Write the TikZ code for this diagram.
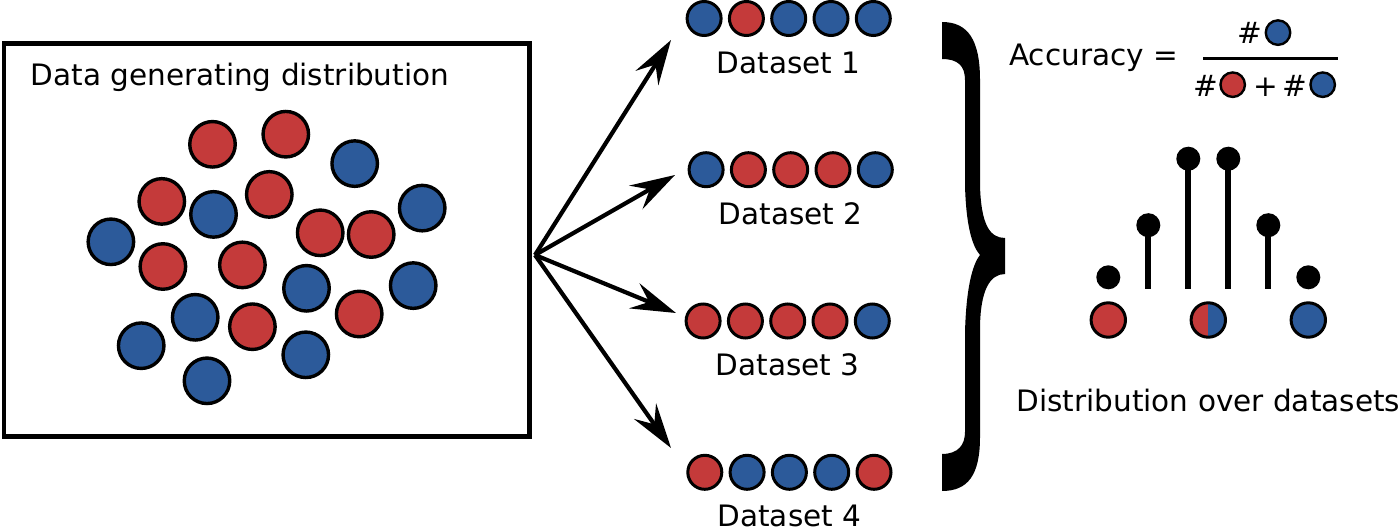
\documentclass[tikz,border=0pt]{standalone}
\usepackage{fontspec}
\setmainfont{DejaVu Sans}
\usetikzlibrary{positioning, calc, arrows.meta}
\definecolor{dotred}{HTML}{C43A3A}
\definecolor{dotblue}{HTML}{2C5A9A}
\tikzset{
	big red/.style={circle, draw, line width=3.4pt, fill=dotred, minimum size=45.5pt, inner sep=0pt, outer sep=0pt},
	big blue/.style={big red, fill=dotblue},
	red ball/.style={circle, draw, line width=3pt, fill=dotred, minimum size=34pt, inner sep=0pt, outer sep=0pt},
	blue ball/.style={red ball, fill=dotblue},
	small red/.style={circle, draw, line width=2.4pt, fill=dotred, minimum size=24.5pt, inner sep=0pt},
	small blue/.style={small red, fill=dotblue},
	stem dot/.style={circle, fill=black, minimum size=24pt, inner sep=0pt},
	txt/.style={inner sep=0pt, font=\fontsize{29.5}{35}\selectfont},
	fork/.style={line width=4.2pt, -{Stealth[length=45pt, width=27pt, inset=16pt]}},
}
\begin{document}
\begin{tikzpicture}[x=1pt, y=-1pt, node distance=8.3pt]
			\useasboundingbox (0,0) rectangle (1400,527);
			% generating distribution
			\node[draw, line width=4.5pt, minimum width=525.7pt, minimum height=393.3pt, inner sep=0pt] (box) at (266.65,239.95) {};
			\path (box.north west) ++(29,44.2) node[txt, anchor=base west] (title) {Data generating distribution};
			\node[big red] (p1) at (212.5,144.3) {};
			\node[big red] (p2) at (285.8,134.2) {};
			\node[big red] (p3) at (161.8,201.4) {};
			\node[big red] (p4) at (269.3,194.4) {};
			\node[big red] (p5) at (320.2,232.8) {};
			\node[big red] (p6) at (371.2,234.5) {};
			\node[big red] (p7) at (162.9,266.5) {};
			\node[big red] (p8) at (242.4,264.9) {};
			\node[big red] (p9) at (252.4,326.7) {};
			\node[big red] (p10) at (359.2,314) {};
			\node[big blue] (n1) at (354.7,163.6) {};
			\node[big blue] (n2) at (213.5,214.4) {};
			\node[big blue] (n3) at (422.2,208.1) {};
			\node[big blue] (n4) at (110.9,241.8) {};
			\node[big blue] (n5) at (306.5,288.3) {};
			\node[big blue] (n6) at (413.2,285.6) {};
			\node[big blue] (n7) at (195.2,317.3) {};
			\node[big blue] (n8) at (141.2,345.7) {};
			\node[big blue] (n9) at (305.8,354.8) {};
			\node[big blue] (n10) at (207,380.8) {};
			% sampled datasets
			\node[blue ball] (d1 1) at (704.1,18.5) {}; \node[red ball, right=of d1 1] (d1 2) {}; \node[blue ball, right=of d1 2] (d1 3) {};
			\node[blue ball, right=of d1 3] (d1 4) {}; \node[blue ball, right=of d1 4] (d1 5) {};
			\node[blue ball] (d2 1) at (706.1,169.7) {}; \node[red ball, right=of d2 1] (d2 2) {}; \node[red ball, right=of d2 2] (d2 3) {};
			\node[red ball, right=of d2 3] (d2 4) {}; \node[blue ball, right=of d2 4] (d2 5) {};
			\node[red ball] (d3 1) at (703.1,321) {}; \node[red ball, right=of d3 1] (d3 2) {}; \node[red ball, right=of d3 2] (d3 3) {};
			\node[red ball, right=of d3 3] (d3 4) {}; \node[blue ball, right=of d3 4] (d3 5) {};
			\node[red ball] (d4 1) at (704.8,472.3) {}; \node[blue ball, right=of d4 1] (d4 2) {}; \node[blue ball, right=of d4 2] (d4 3) {};
			\node[blue ball, right=of d4 3] (d4 4) {}; \node[red ball, right=of d4 4] (d4 5) {};
			\path (d1 3) ++(0,54.8) node[txt, anchor=base] (set 1) {Dataset 1};
			\path (d2 3) ++(0,54.8) node[txt, anchor=base] (set 2) {Dataset 2};
			\path (d3 3) ++(0,54.5) node[txt, anchor=base] (set 3) {Dataset 3};
			\path (d4 3) ++(0,53.7) node[txt, anchor=base] (set 4) {Dataset 4};
			\coordinate (split) at (535,255);
			\coordinate (tip 1) at (671,40);
			\coordinate (tip 2) at (675,175);
			\coordinate (tip 3) at (676,313);
			\coordinate (tip 4) at (671,448);
			\draw[fork] (split) -- (tip 1);
			\draw[fork] (split) -- (tip 2);
			\draw[fork] (split) -- (tip 3);
			\draw[fork] (split) -- (tip 4);
			% brace
			\fill (942,22) .. controls (968,22) and (980,40) .. (980,80) -- (980,185)
				.. controls (981,225) and (990,238) .. (1005,238) -- (1005,274)
				.. controls (990,274) and (980,290) .. (980,330) -- (980,437)
				.. controls (980,475) and (968,491) .. (942,491) -- (942,454)
				.. controls (958,454) and (965,445) .. (965,432) -- (965,333)
				.. controls (966,290) and (972,265) .. (980,255)
				.. controls (972,246) and (966,225) .. (965,185) -- (965,80)
				.. controls (965,66) and (958,59) .. (942,59) -- cycle;
			% accuracy
			\node[txt, anchor=base west] (acc) at (1009,66) {Accuracy =};
			\coordinate (bar left) at (1203,59);
			\coordinate (bar right) at (1338,59);
			\draw[line width=3pt] (bar left) -- (bar right);
			\node[txt, anchor=base] (hash top) at (1249.5,43.7) {\#};
			\node[small blue] (top blue) at (1278,32.6) {};
			\node[txt, anchor=base] (hash red) at (1205.5,96.8) {\#};
			\node[small red] (bot red) at (1232.7,84.7) {};
			\node[txt, anchor=base] (plus) at (1265.5,96.8) {+};
			\node[txt, anchor=base] (hash blue) at (1295,96.8) {\#};
			\node[small blue] (bot blue) at (1322.7,84.7) {};
			% distribution over datasets
			\coordinate (stem base) at (1208.3,289);
			\node[stem dot] (s1) at (1108.3,277.3) {};
			\node[stem dot] (s2) at (1148.3,225.2) {};
			\node[stem dot] (s3) at (1188.3,158.7) {};
			\node[stem dot] (s4) at (1228.3,158.7) {};
			\node[stem dot] (s5) at (1268.3,225.2) {};
			\node[stem dot] (s6) at (1308.3,277.3) {};
			\draw[line width=6pt] (s2.center) -- (s2.center |- stem base);
			\draw[line width=6pt] (s3.center) -- (s3.center |- stem base);
			\draw[line width=6pt] (s4.center) -- (s4.center |- stem base);
			\draw[line width=6pt] (s5.center) -- (s5.center |- stem base);
			\node[red ball, minimum size=34.4pt] (all red) at (1108.3,320) {};
			\node[blue ball, minimum size=34.4pt, path picture={\fill[dotred] (path picture bounding box.north west) rectangle (path picture bounding box.south);}] (half) at (1208.3,320) {};
			\node[blue ball, minimum size=34.4pt] (all blue) at (1308.3,320) {};
			\path (half) ++(0,91.8) node[txt, anchor=base] (dist label) {Distribution over datasets};
		\end{tikzpicture}
\end{document}
